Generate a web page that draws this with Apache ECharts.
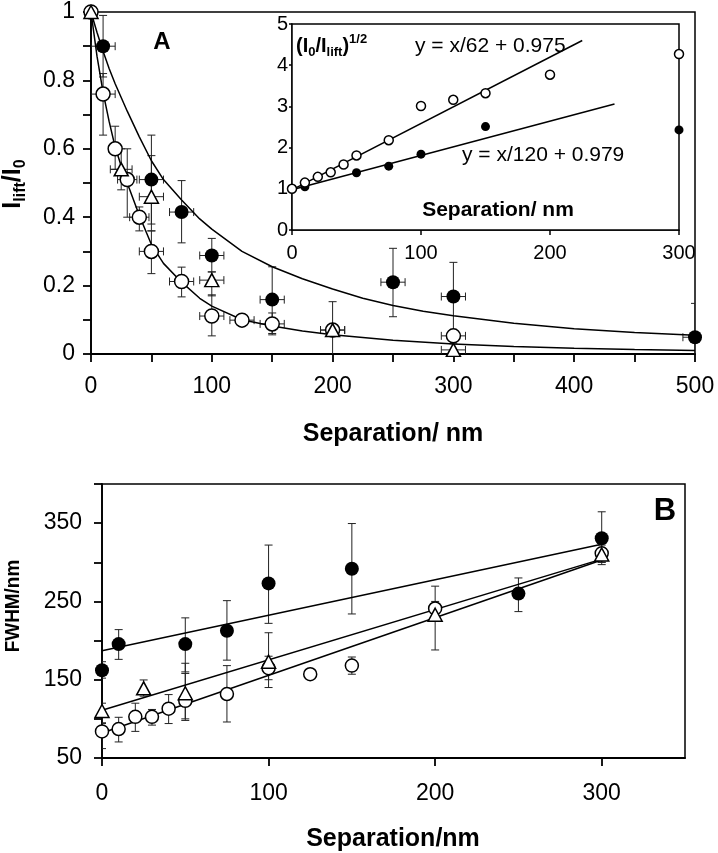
<!DOCTYPE html>
<html><head><meta charset="utf-8">
<script src="https://cdn.jsdelivr.net/npm/echarts@6/dist/echarts.min.js"></script>
<style>html,body{margin:0;padding:0;background:#fff}#c{width:718px;height:853px}</style>
</head><body><div id="c"></div>
<script>
const FONT = 'Liberation Sans, Arial, Helvetica, sans-serif';

// ---------- Panel A (main) ----------
const aXTicks = [0, 50, 100, 150, 200, 250, 300, 350, 400, 450, 500];
const aXLabels = [0, 100, 200, 300, 400, 500];
const aYTicks = [0, 0.1, 0.2, 0.3, 0.4, 0.5, 0.6, 0.7, 0.8, 0.9, 1];
const aYLabels = [0, 0.2, 0.4, 0.6, 0.8, 1];

const sepFilledA  = [10, 50, 75, 100, 150, 250, 300, 500];
const valFilledA  = [0.90, 0.51, 0.415, 0.288, 0.159, 0.21, 0.168, 0.049];
const loFilledA   = [0.81, 0.38, 0.325, 0.24, 0.06, 0.109, 0.068, -0.05];
const hiFilledA   = [0.99, 0.64, 0.507, 0.338, 0.255, 0.309, 0.268, 0.148];
const xerrFilledA = [10, 10, 10, 10, 10, 10, 10, 10];

const sepOpenA  = [0, 10, 20, 30, 40, 50, 75, 100, 125, 150, 200, 300];
const valOpenA  = [1.0, 0.76, 0.60, 0.51, 0.40, 0.30, 0.212, 0.111, 0.099, 0.088, 0.07, 0.053];
const loOpenA   = [1.0, 0.64, 0.54, 0.40, 0.36, 0.235, 0.167, 0.053, 0.099, 0.056, 0.06, 0.053];
const hiOpenA   = [1.0, 0.82, 0.666, 0.60, 0.43, 0.36, 0.254, 0.173, 0.099, 0.12, 0.08, 0.053];
const xerrOpenA = [0, 10, 5, 8, 8, 10, 10, 10, 10, 10, 10, 10];

const sepTriA  = [0, 25, 50, 100, 200, 300];
const valTriA  = [1.0, 0.54, 0.46, 0.216, 0.07, 0.012];
const loTriA   = [1.0, 0.48, 0.36, 0.17, -0.012, 0.0];
const hiTriA   = [1.0, 0.60, 0.58, 0.24, 0.153, 0.03];
const xerrTriA = [0, 9, 10, 10, 10, 10];

// fitted decay curves
const curveSepUpperA = [0, 5, 10, 15, 20, 25, 30, 40, 50, 60, 75, 90, 100, 125, 150, 175, 200, 225, 250, 275, 300, 350, 400, 450, 500];
const curveUpperA    = [1, 0.94, 0.885, 0.835, 0.79, 0.75, 0.71, 0.635, 0.565, 0.51, 0.45, 0.395, 0.365, 0.30, 0.255, 0.22, 0.19, 0.163, 0.142, 0.125, 0.112, 0.09, 0.074, 0.063, 0.055];
const curveSepLowerA = [0, 5, 10, 15, 20, 25, 30, 40, 50, 60, 75, 90, 100, 125, 150, 175, 200, 250, 300, 350, 400, 450, 500];
const curveLowerA    = [1, 0.87, 0.765, 0.68, 0.605, 0.55, 0.50, 0.405, 0.32, 0.265, 0.21, 0.163, 0.14, 0.10, 0.082, 0.067, 0.056, 0.04, 0.029, 0.022, 0.017, 0.013, 0.01];

// ---------- Inset ----------
const insetXTicks = [0, 100, 200, 300];
const insetYTicks = [0, 1, 2, 3, 4, 5];
const insetSepOpen = [0, 10, 20, 30, 40, 50, 75, 100, 125, 150, 200, 300];
const insetOpen    = [1.0, 1.15, 1.29, 1.40, 1.59, 1.81, 2.18, 3.01, 3.16, 3.32, 3.77, 4.27];
const insetSepFilled = [0, 10, 50, 75, 100, 150, 300];
const insetFilled    = [1.0, 1.05, 1.39, 1.55, 1.84, 2.51, 2.43];
const insetFitOpenX   = [0, 225];
const insetFitOpenY   = [0.975, 4.6];
const insetFitFilledX = [0, 250];
const insetFitFilledY = [0.979, 3.06];

// ---------- Panel B ----------
const bXTicks = [0, 100, 200, 300];
const bYTicks = [50, 100, 150, 200, 250, 300, 350, 400];
const bYLabels = [50, 150, 250, 350];

const sepFilledB = [0, 10, 50, 75, 100, 150, 250, 300];
const valFilledB = [162, 195.5, 195.5, 212.6, 273, 291.8, 260, 330.7];
const loFilledB  = [152, 176, 160, 175, 222, 234, 237, 300];
const hiFilledB  = [173, 214, 229, 251, 322, 349.5, 280, 364.5];

const sepOpenB = [0, 10, 20, 30, 40, 50, 75, 100, 125, 150, 200, 300];
const valOpenB = [84, 87, 102.6, 102.6, 113, 123, 131.7, 164.7, 157, 168, 241, 311.5];
const loOpenB  = [62, 70.5, 84, 92, 94, 100, 96, 150, 157, 157, 225, 300];
const hiOpenB  = [95, 102, 120, 112, 131, 158, 168, 180, 157, 179, 269.5, 322];

const sepTriB = [0, 25, 50, 100, 200, 300];
const valTriB = [110, 139, 132.7, 173, 233, 310];
const loTriB  = [94, 129, 98, 140, 188, 297];
const hiTriB  = [120, 149.7, 171, 210, 250, 318];

const lineSepB    = [0, 300];
const lineFilledB = [187, 323];
const lineTriB    = [111, 304];
const lineOpenB   = [82, 303];

// ---------- helpers ----------
const zip = (xs, ys) => xs.map((x, i) => [x, ys[i]]);
const errRows = (xs, ys, lo, hi, xe) => xs.map((x, i) => [x, ys[i], lo[i], hi[i], xe ? xe[i] : 0]);

function errRender(params, api) {
  const x = api.value(0), y = api.value(1), lo = api.value(2), hi = api.value(3), xe = api.value(4);
  const c = api.coord([x, y]);
  const st = {stroke: '#222', lineWidth: 1};
  const cap = 4;
  const ch = [];
  if (hi !== lo) {
    const pl = api.coord([x, lo]), ph = api.coord([x, hi]);
    ch.push({type: 'line', shape: {x1: c[0], y1: pl[1], x2: c[0], y2: ph[1]}, style: st});
    ch.push({type: 'line', shape: {x1: c[0] - cap, y1: pl[1], x2: c[0] + cap, y2: pl[1]}, style: st});
    ch.push({type: 'line', shape: {x1: c[0] - cap, y1: ph[1], x2: c[0] + cap, y2: ph[1]}, style: st});
  }
  if (xe > 0) {
    const a = api.coord([x - xe, y]), b = api.coord([x + xe, y]);
    ch.push({type: 'line', shape: {x1: a[0], y1: c[1], x2: b[0], y2: c[1]}, style: st});
    ch.push({type: 'line', shape: {x1: a[0], y1: c[1] - cap, x2: a[0], y2: c[1] + cap}, style: st});
    ch.push({type: 'line', shape: {x1: b[0], y1: c[1] - cap, x2: b[0], y2: c[1] + cap}, style: st});
  }
  return {type: 'group', children: ch};
}

function axis(gi, min, max, ticks, labels, fontSize, margin, tickLen, lw) {
  return {
    type: 'value', gridIndex: gi, min, max,
    axisLine: {show: true, onZero: false, lineStyle: {color: '#000', width: lw}},
    axisTick: {show: true, inside: false, length: tickLen, customValues: ticks, lineStyle: {color: '#000', width: lw}},
    axisLabel: {show: true, customValues: labels, margin, fontSize, fontFamily: FONT, color: '#000'},
    splitLine: {show: false}
  };
}

const errSeries = (xi, rows) => ({
  type: 'custom', xAxisIndex: xi, yAxisIndex: xi, renderItem: errRender,
  data: rows, encode: {x: 0, y: 1}, clip: true, z: 2, silent: true
});
const lineSeries = (xi, data) => ({
  type: 'line', xAxisIndex: xi, yAxisIndex: xi, data, showSymbol: false, smooth: false,
  lineStyle: {color: '#000', width: 1.5}, z: 2, silent: true
});
const filledSeries = (xi, data, size) => ({
  type: 'scatter', xAxisIndex: xi, yAxisIndex: xi, data, symbol: 'circle', symbolSize: size,
  itemStyle: {color: '#000', opacity: 1}, z: 3, silent: true
});
const openSeries = (xi, data, size) => ({
  type: 'scatter', xAxisIndex: xi, yAxisIndex: xi, data, symbol: 'circle', symbolSize: size,
  itemStyle: {color: '#fff', borderColor: '#000', borderWidth: 1.5, opacity: 1}, z: 4, silent: true
});
const triSeries = (xi, data, size) => ({
  type: 'scatter', xAxisIndex: xi, yAxisIndex: xi, data, symbol: 'triangle', symbolSize: size,
  itemStyle: {color: '#fff', borderColor: '#000', borderWidth: 1.5, opacity: 1}, z: 5, silent: true
});

const option = {
  animation: false,
  backgroundColor: '#fff',
  grid: [
    {left: 91, top: 12, width: 604, height: 342, show: true, borderColor: '#000', borderWidth: 1.5, containLabel: false},
    {left: 292, top: 24, width: 387, height: 206, show: true, backgroundColor: '#fff', borderColor: '#000', borderWidth: 1.5, containLabel: false, z: 1},
    {left: 102, top: 484, width: 583, height: 274, show: true, borderColor: '#000', borderWidth: 1.5, containLabel: false}
  ],
  xAxis: [
    axis(0, 0, 500, aXTicks, aXLabels, 23, 21, 8, 1.8),
    axis(1, 0, 300, insetXTicks, insetXTicks, 20, 13, 5, 1.5),
    axis(2, 0, 350, bXTicks, bXTicks, 23, 24, 8, 1.8)
  ],
  yAxis: [
    axis(0, 0, 1, aYTicks, aYLabels, 23, 16, 8, 1.8),
    axis(1, 0, 5, insetYTicks, insetYTicks, 20, 4, 3, 1.5),
    axis(2, 50, 400, bYTicks, bYLabels, 23, 20, 8, 1.8)
  ],
  series: [
    // Panel A
    errSeries(0, errRows(sepFilledA, valFilledA, loFilledA, hiFilledA, xerrFilledA)),
    errSeries(0, errRows(sepOpenA, valOpenA, loOpenA, hiOpenA, xerrOpenA)),
    errSeries(0, errRows(sepTriA, valTriA, loTriA, hiTriA, xerrTriA)),
    lineSeries(0, zip(curveSepUpperA, curveUpperA)),
    lineSeries(0, zip(curveSepLowerA, curveLowerA)),
    filledSeries(0, zip(sepFilledA, valFilledA), 14),
    openSeries(0, zip(sepOpenA, valOpenA), 14),
    triSeries(0, zip(sepTriA, valTriA), [14, 13]),
    // Inset
    lineSeries(1, zip(insetFitOpenX, insetFitOpenY)),
    lineSeries(1, zip(insetFitFilledX, insetFitFilledY)),
    openSeries(1, zip(insetSepOpen, insetOpen), 9),
    filledSeries(1, zip(insetSepFilled, insetFilled), 9),
    // Panel B
    errSeries(2, errRows(sepFilledB, valFilledB, loFilledB, hiFilledB)),
    errSeries(2, errRows(sepOpenB, valOpenB, loOpenB, hiOpenB)),
    errSeries(2, errRows(sepTriB, valTriB, loTriB, hiTriB)),
    lineSeries(2, zip(lineSepB, lineFilledB)),
    lineSeries(2, zip(lineSepB, lineTriB)),
    lineSeries(2, zip(lineSepB, lineOpenB)),
    filledSeries(2, zip(sepFilledB, valFilledB), 14),
    openSeries(2, zip(sepOpenB, valOpenB), 13),
    triSeries(2, zip(sepTriB, valTriB), [14, 13])
  ],
  graphic: [
    {type: 'text', x: 162, y: 42, z: 10, style: {text: 'A', font: 'bold 24px ' + FONT, fill: '#000', align: 'center', verticalAlign: 'middle'}},
    {type: 'text', x: 665, y: 511, z: 10, style: {text: 'B', font: 'bold 31px ' + FONT, fill: '#000', align: 'center', verticalAlign: 'middle'}},
    {type: 'text', x: 393, y: 434, z: 10, style: {text: 'Separation/ nm', font: 'bold 25px ' + FONT, fill: '#000', align: 'center', verticalAlign: 'middle'}},
    {type: 'text', x: 393, y: 839, z: 10, style: {text: 'Separation/nm', font: 'bold 25px ' + FONT, fill: '#000', align: 'center', verticalAlign: 'middle'}},
    {type: 'text', x: 498, y: 210, z: 10, style: {text: 'Separation/ nm', font: 'bold 21px ' + FONT, fill: '#000', align: 'center', verticalAlign: 'middle'}},
    {type: 'text', x: 415, y: 46, z: 10, style: {text: 'y = x/62 + 0.975', font: '21px ' + FONT, fill: '#000', align: 'left', verticalAlign: 'middle'}},
    {type: 'text', x: 462, y: 155, z: 10, style: {text: 'y = x/120 + 0.979', font: '21px ' + FONT, fill: '#000', align: 'left', verticalAlign: 'middle'}},
    {type: 'text', x: 296, y: 46, z: 10, style: {
      text: '{b|(I}{s|0}{b|/I}{s|lift}{b|)}{p|1/2}', align: 'left', verticalAlign: 'middle', fill: '#000',
      rich: {
        b: {fontSize: 20, fontWeight: 'bold', fontFamily: FONT, lineHeight: 26, fill: '#000'},
        s: {fontSize: 13, fontWeight: 'bold', fontFamily: FONT, lineHeight: 13, verticalAlign: 'bottom', fill: '#000'},
        p: {fontSize: 13, fontWeight: 'bold', fontFamily: FONT, lineHeight: 13, verticalAlign: 'top', fill: '#000'}
      }}},
    {type: 'text', x: 13, y: 184, rotation: Math.PI / 2, z: 10, style: {
      text: '{b|I}{s|lift}{b|/I}{s|0}', align: 'center', verticalAlign: 'middle', fill: '#000',
      rich: {
        b: {fontSize: 25, fontWeight: 'bold', fontFamily: FONT, lineHeight: 32, fill: '#000'},
        s: {fontSize: 16, fontWeight: 'bold', fontFamily: FONT, lineHeight: 16, verticalAlign: 'bottom', fill: '#000'}
      }}},
    {type: 'text', x: 13, y: 606, rotation: Math.PI / 2, scaleX: 0.9, z: 10, style: {
      text: 'FWHM/nm', font: 'bold 21px ' + FONT, fill: '#000', align: 'center', verticalAlign: 'middle'}}
  ]
};

const chart = echarts.init(document.getElementById('c'), null, {renderer: 'canvas'});
chart.setOption(option);
</script></body></html>
